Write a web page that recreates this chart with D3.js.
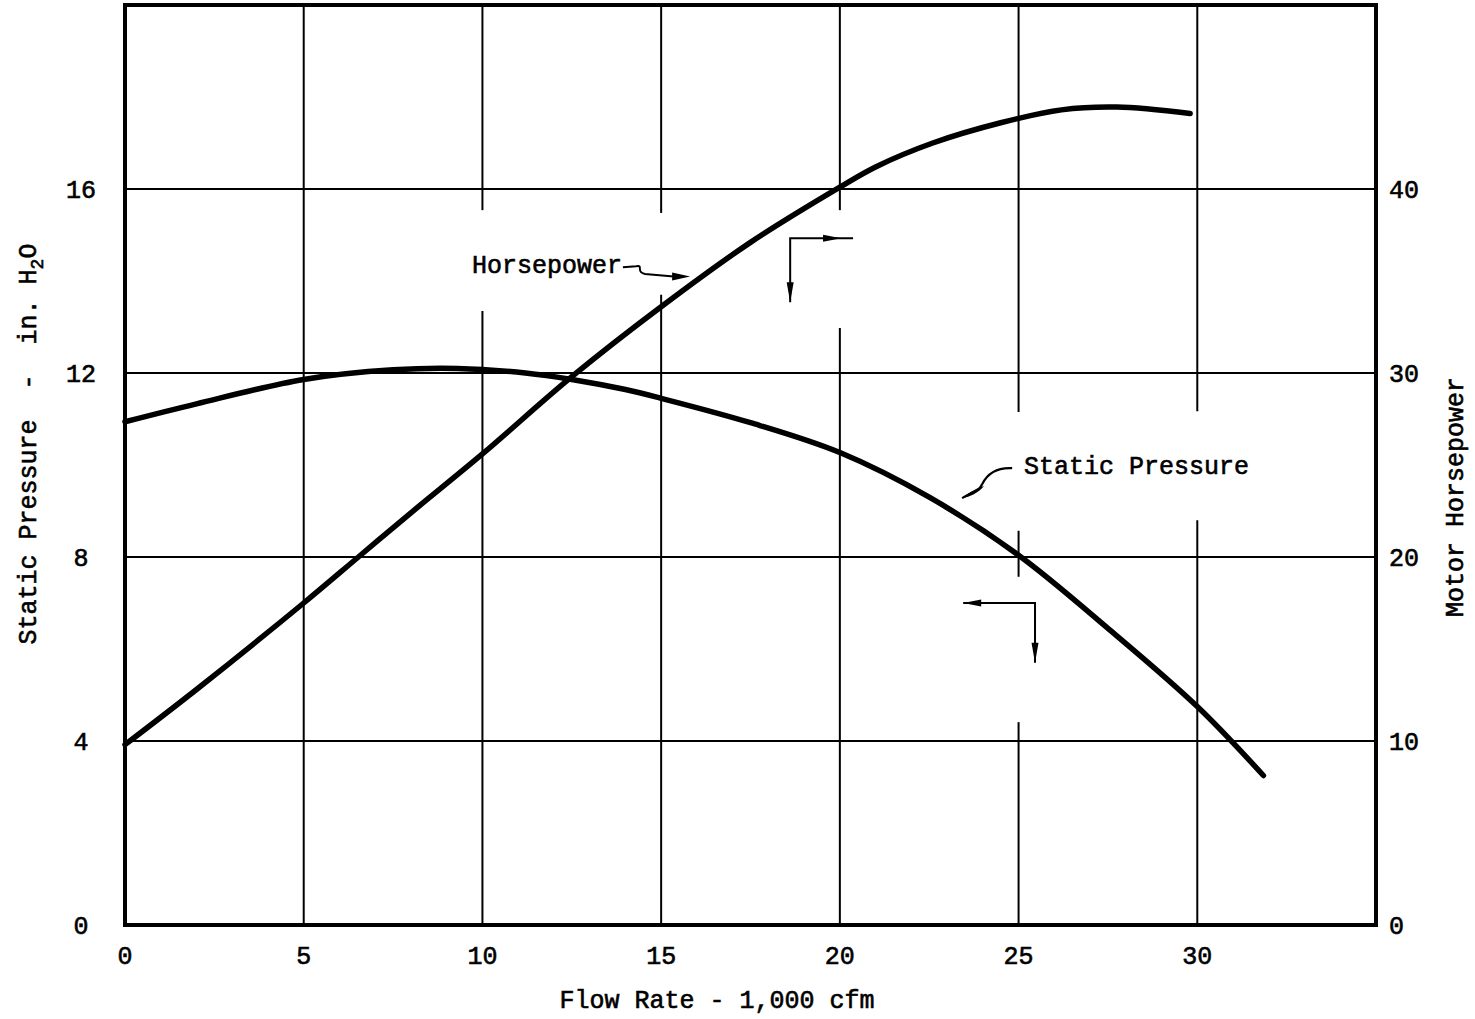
<!DOCTYPE html>
<html>
<head>
<meta charset="utf-8">
<script src="https://cdn.jsdelivr.net/npm/d3@7"></script>
<style>
  body { margin: 0; background: #fff; }
  text { font-family: "Liberation Mono", "DejaVu Sans Mono", monospace; fill: #000; stroke: #000; stroke-width: 0.6px; }
</style>
</head>
<body>
<script>
const width = 1475;
const height = 1019;

// flow rate (1,000 cfm) and static pressure (in. H2O)
const spFlow = [0, 2, 5, 7.5, 9.3, 11.2, 12.5, 14, 15, 17.5, 20, 22.5, 25, 27.5, 30, 31.85];
const spValues = [10.94, 11.33, 11.86, 12.07, 12.1, 12.0, 11.86, 11.64, 11.45, 10.92, 10.27, 9.3, 8.04, 6.45, 4.75, 3.25];

// flow rate and motor horsepower
const hpFlow = [0, 2, 5, 6.53, 8, 10, 12.5, 15, 17.5, 20, 21, 22.6, 24.5, 26.2, 27.75, 29.8];
const hpValues = [9.8, 12.8, 17.5, 20, 22.4, 25.6, 29.8, 33.6, 37.1, 40.1, 41.2, 42.5, 43.6, 44.3, 44.45, 44.1];

const xTicks = [0, 5, 10, 15, 20, 25, 30];
const spTicks = [0, 4, 8, 12, 16];
const hpTicks = [0, 10, 20, 30, 40];

const svg = d3.select('body')
  .append('svg')
  .attr('width', width)
  .attr('height', height);

const x = d3.scaleLinear().domain([0, 35]).range([125, 1376]);
const ySP = d3.scaleLinear().domain([0, 20]).range([925, 5]);
const yHP = d3.scaleLinear().domain([0, 50]).range([925, 5]);

// horizontal grid lines
svg.append('g')
  .selectAll('line')
  .data(spTicks.slice(1))
  .join('line')
  .attr('x1', x(0)).attr('x2', x(35))
  .attr('y1', d => ySP(d)).attr('y2', d => ySP(d))
  .attr('stroke', '#000').attr('stroke-width', 2);

// vertical grid lines, broken where the drawing left room for labels
const gaps = {
  10: [[13.35, 15.54]],
  15: [[13.7, 15.48]],
  20: [[12.98, 15.54]],
  25: [[4.41, 7.57], [8.57, 11.15]],
  30: [[8.8, 11.17]]
};
const vSegs = [];
xTicks.slice(1).forEach(v => {
  let lo = 0;
  (gaps[v] || []).forEach(g => { vSegs.push({ v, a: lo, b: g[0] }); lo = g[1]; });
  vSegs.push({ v, a: lo, b: 20 });
});
svg.append('g')
  .selectAll('line')
  .data(vSegs)
  .join('line')
  .attr('x1', d => x(d.v)).attr('x2', d => x(d.v))
  .attr('y1', d => ySP(d.a)).attr('y2', d => ySP(d.b))
  .attr('stroke', '#000').attr('stroke-width', 2);

// frame
svg.append('rect')
  .attr('x', x(0)).attr('y', ySP(20))
  .attr('width', x(35) - x(0)).attr('height', ySP(0) - ySP(20))
  .attr('fill', 'none').attr('stroke', '#000').attr('stroke-width', 4);

// tick labels
svg.append('g')
  .selectAll('text')
  .data(xTicks)
  .join('text')
  .attr('x', d => x(d)).attr('y', 964)
  .attr('text-anchor', 'middle')
  .attr('font-size', 25)
  .text(d => d);

svg.append('g')
  .selectAll('text')
  .data(spTicks)
  .join('text')
  .attr('x', 81).attr('y', d => ySP(d)).attr('dy', '0.35em')
  .attr('text-anchor', 'middle')
  .attr('font-size', 25)
  .text(d => d);

svg.append('g')
  .selectAll('text')
  .data(hpTicks)
  .join('text')
  .attr('x', 1389).attr('y', d => yHP(d)).attr('dy', '0.35em')
  .attr('text-anchor', 'start')
  .attr('font-size', 25)
  .text(d => d);

// axis titles
svg.append('text')
  .attr('x', 717).attr('y', 1008)
  .attr('text-anchor', 'middle')
  .attr('font-size', 25)
  .text('Flow Rate - 1,000 cfm');

const leftTitle = svg.append('text')
  .attr('transform', 'translate(36,444) rotate(-90)')
  .attr('text-anchor', 'middle')
  .attr('font-size', 25)
  .attr('xml:space', 'preserve');
leftTitle.append('tspan').text('Static Pressure  -  in. H');
leftTitle.append('tspan').attr('dy', 7).attr('font-size', 18).text('2');
leftTitle.append('tspan').attr('dy', -7).text('O');

svg.append('text')
  .attr('transform', 'translate(1463,497) rotate(-90)')
  .attr('text-anchor', 'middle')
  .attr('font-size', 25)
  .text('Motor Horsepower');

// curves
const spLine = d3.line()
  .x((d, i) => x(spFlow[i]))
  .y(d => ySP(d))
  .curve(d3.curveCatmullRom.alpha(0.5));
const hpLine = d3.line()
  .x((d, i) => x(hpFlow[i]))
  .y(d => yHP(d))
  .curve(d3.curveCatmullRom.alpha(0.5));

svg.append('path')
  .datum(spValues)
  .attr('d', spLine)
  .attr('fill', 'none').attr('stroke', '#000')
  .attr('stroke-width', 5.5).attr('stroke-linecap', 'round');

svg.append('path')
  .datum(hpValues)
  .attr('d', hpLine)
  .attr('fill', 'none').attr('stroke', '#000')
  .attr('stroke-width', 5.5).attr('stroke-linecap', 'round');

// annotations (positions in flow / static pressure units)
function P(fx, sp) { return [x(fx), ySP(sp)]; }

function arrowHead(tip, dir, len, half) {
  const [tx, ty] = tip;
  const bx = tx - dir[0] * len, by = ty - dir[1] * len;
  const nx = -dir[1] * half, ny = dir[0] * half;
  svg.append('path')
    .attr('d', `M${tx},${ty}L${bx + nx},${by + ny}L${bx - nx},${by - ny}Z`)
    .attr('fill', '#000');
}

// Horsepower label with its wavy leader
let p = P(9.71, 14.17);
svg.append('text')
  .attr('x', p[0]).attr('y', p[1])
  .attr('font-size', 25)
  .text('Horsepower');

const hpLead = [P(13.93, 14.3), P(14.3, 14.32), P(14.55, 14.15), P(15.35, 14.1)];
svg.append('path')
  .attr('d', `M${hpLead[0]}L${hpLead[1]}C${hpLead[1][0] + 8},${hpLead[1][1] - 2} ${hpLead[2][0] - 10},${hpLead[2][1] - 2} ${hpLead[2]}L${hpLead[3]}`)
  .attr('fill', 'none').attr('stroke', '#000').attr('stroke-width', 2);
arrowHead(P(15.81, 14.1), [1, 0], 18, 4);

// Static Pressure label with its curved leader
p = P(25.15, 9.8);
svg.append('text')
  .attr('x', p[0]).attr('y', p[1])
  .attr('font-size', 25)
  .text('Static Pressure');

const a = P(24.82, 9.93), b = P(23.42, 9.28);
svg.append('path')
  .attr('d', `M${a}C${a[0] - 18},${a[1] - 1} ${a[0] - 26},${a[1] + 8} ${a[0] - 30},${a[1] + 16}C${a[0] - 34},${a[1] + 24} ${b[0] + 10},${b[1] - 6} ${b}`)
  .attr('fill', 'none').attr('stroke', '#000').attr('stroke-width', 2.2);
svg.append('path')
  .attr('d', `M${b}C${b[0] + 8},${b[1] - 7} ${b[0] + 16},${b[1] - 10} ${b[0] + 22},${b[1] - 12}C${b[0] + 16},${b[1] - 5} ${b[0] + 8},${b[1] - 1} ${b}Z`)
  .attr('fill', '#000');

// right-axis marker for horsepower
const c1 = P(18.61, 14.93);
const c1v = P(18.61, 13.54);
const c1h = P(20.37, 14.93);
svg.append('path')
  .attr('d', `M${c1v}L${c1}L${c1h}`)
  .attr('fill', 'none').attr('stroke', '#000').attr('stroke-width', 2);
arrowHead(c1v, [0, 1], 20, 3.5);
arrowHead([c1h[0] - 12, c1h[1]], [1, 0], 18, 3.5);

// left-axis marker for static pressure
const c2 = P(25.46, 7.0);
const c2h = P(23.45, 7.0);
const c2v = P(25.46, 5.7);
svg.append('path')
  .attr('d', `M${c2h}L${c2}L${c2v}`)
  .attr('fill', 'none').attr('stroke', '#000').attr('stroke-width', 2);
arrowHead(c2h, [-1, 0], 18, 3.5);
arrowHead(c2v, [0, 1], 20, 3.5);
</script>
</body>
</html>
